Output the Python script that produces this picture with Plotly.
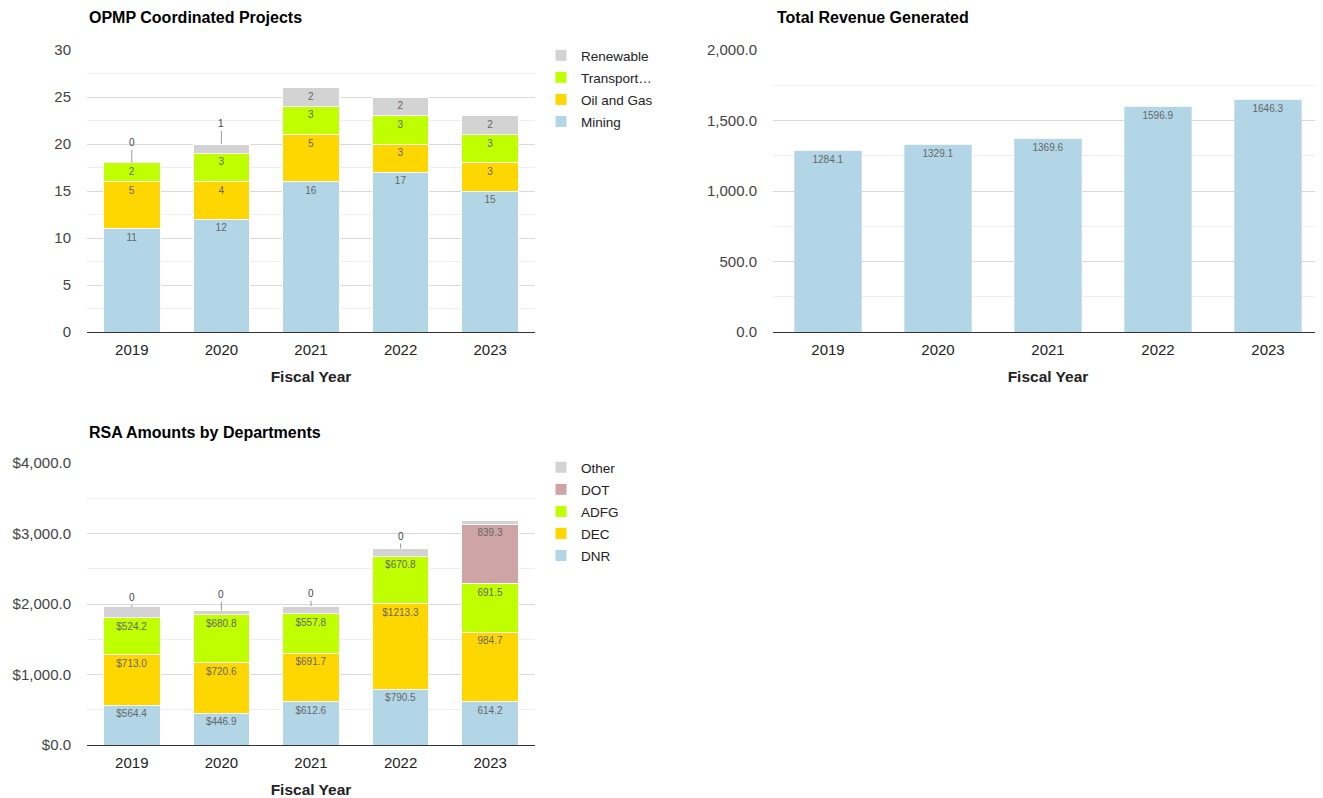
import plotly.graph_objects as go

# ---------------- data ----------------
years = ["2019", "2020", "2021", "2022", "2023"]

# OPMP Coordinated Projects (counts)
mining = [11, 12, 16, 17, 15]
oil_gas = [5, 4, 5, 3, 3]
transport = [2, 3, 3, 3, 3]
renewable = [0, 1, 2, 2, 2]

# Total Revenue Generated
revenue = [1284.1, 1329.1, 1369.6, 1596.9, 1646.3]

# RSA Amounts by Departments
dnr = [564.4, 446.9, 612.6, 790.5, 614.2]
dec = [713.0, 720.6, 691.7, 1213.3, 984.7]
adfg = [524.2, 680.8, 557.8, 670.8, 691.5]
dot = [0, 0, 0, 0, 839.3]
other = [156, 57, 109, 113, 61]
rsa_prefix = ["$", "$", "$", "$", ""]

# ---------------- style ----------------
PAGE_OFF = 8            # default page margin of the html body
W, H = 1323 - PAGE_OFF, 798 - PAGE_OFF
FONT = "Arial, Liberation Sans, sans-serif"
C_BLUE = "#B2D6E6"
C_GOLD = "#FFD700"
C_LIME = "#BFFF00"
C_GRAY = "#D3D3D3"
C_PINK = "#CFA4A4"
LABEL_FONT = dict(family=FONT, size=10, color="#666666")


def fx(px):
    return (px - PAGE_OFF) / W


def fy(py):
    return 1 - (py - PAGE_OFF) / H


fig = go.Figure()
rank = [1000]


def add_stack(series, axes, legend, width, fmt, show_text=True):
    for name, vals, color in series:
        if show_text:
            text = [fmt(i, v) if v * axes[2] >= 12 else "" for i, v in enumerate(vals)]
        else:
            text = None
        rank[0] -= 1
        fig.add_trace(go.Bar(
            x=years, y=vals, name=name, marker=dict(color=color, line=dict(color="white", width=1)),
            text=text, textposition="inside", insidetextanchor="end", textangle=0,
            textfont=LABEL_FONT, xaxis=axes[0], yaxis=axes[1], width=width,
            legend=legend, legendgroup=legend + name, legendrank=rank[0], cliponaxis=False,
        ))


# OPMP chart
opmp_ppu = 282 / 30.0
add_stack([("Mining", mining, C_BLUE), ("Oil and Gas", oil_gas, C_GOLD),
           ("Transport…", transport, C_LIME), ("Renewable", renewable, C_GRAY)],
          ("x", "y", opmp_ppu), "legend", 0.63, lambda i, v: f"{v:g}")

# Revenue chart
fig.add_trace(go.Bar(x=years, y=revenue, name="Revenue", marker=dict(color=C_BLUE),
                     text=[f"{v:.1f}" for v in revenue], textposition="inside",
                     insidetextanchor="end", textangle=0, textfont=LABEL_FONT,
                     xaxis="x2", yaxis="y2", width=0.61, showlegend=False))

# RSA chart
rsa_ppu = 282 / 4000.0
add_stack([("DNR", dnr, C_BLUE), ("DEC", dec, C_GOLD), ("ADFG", adfg, C_LIME),
           ("DOT", dot, C_PINK)], ("x3", "y3", rsa_ppu), "legend2", 0.63,
          lambda i, v: f"{rsa_prefix[i]}{v:.1f}")
add_stack([("Other", other, C_GRAY)], ("x3", "y3", rsa_ppu), "legend2", 0.63,
          None, show_text=False)

annotations = []


# leader labels for tiny segments
def leader(xa, ya, vals, below, totals, ppu, offset_px=20):
    for i, v in enumerate(vals):
        if v * ppu < 12:
            seg_top = below[i] + v
            annotations.append(dict(
                x=i, y=totals[i], xref=xa, yref=ya,
                ax=0, ay=-(offset_px - (totals[i] - seg_top) * ppu),
                text=str(round(v)), showarrow=True, arrowhead=0, arrowwidth=1,
                arrowcolor="#999999", standoff=0, startstandoff=0,
                font=dict(family=FONT, size=10, color="#444444"),
            ))


opmp_below = [a + b + c for a, b, c in zip(mining, oil_gas, transport)]
opmp_tot = [a + b for a, b in zip(opmp_below, renewable)]
leader("x", "y", renewable, opmp_below, opmp_tot, opmp_ppu)

rsa_below = [a + b + c for a, b, c in zip(dnr, dec, adfg)]
rsa_tot = [a + b + c for a, b, c in zip(rsa_below, dot, other)]
leader("x3", "y3", dot, rsa_below, rsa_tot, rsa_ppu)

# titles
for txt, px, py in [("OPMP Coordinated Projects", 87, 18),
                    ("Total Revenue Generated", 775, 18),
                    ("RSA Amounts by Departments", 87, 432)]:
    annotations.append(dict(text=f"<b>{txt}</b>", x=fx(px), y=fy(py), xref="paper", yref="paper",
                            xanchor="left", yanchor="middle", showarrow=False,
                            font=dict(family=FONT, size=16, color="#000000")))


def xax(domain, anchor):
    return dict(domain=domain, anchor=anchor, type="category", range=[-0.5, 4.5],
                showline=True, linecolor="#333333", linewidth=1, ticks="", showgrid=False,
                automargin=False, ticklabelstandoff=4,
                tickfont=dict(family=FONT, size=15, color="#222222"),
                title=dict(text="<b>Fiscal Year</b>", standoff=14,
                           font=dict(family=FONT, size=15.5, color="#222222")))


def yax(domain, anchor, rng, dtick, minor, **kw):
    d = dict(domain=domain, anchor=anchor, range=rng, dtick=dtick, zeroline=False,
             showgrid=True, gridcolor="#DADADA", gridwidth=1, ticks="",
             ticklabelstandoff=15, automargin=False,
             tickfont=dict(family=FONT, size=15, color="#444444"),
             minor=dict(dtick=minor, showgrid=True, gridcolor="#EEEEEE", ticks=""))
    d.update(kw)
    return d


def leg(py):
    return dict(x=fx(541), y=fy(py), xanchor="left", yanchor="top",
                traceorder="grouped", tracegroupgap=1.5,
                font=dict(family=FONT, size=13.5, color="#222222"), bgcolor="rgba(0,0,0,0)")


fig.update_layout(
    width=W, height=H, margin=dict(l=0, r=0, t=0, b=0, autoexpand=False),
    paper_bgcolor="white", plot_bgcolor="white", barmode="stack",
    font=dict(family=FONT, color="#222222"),
    xaxis=xax([fx(87), fx(535)], "y"),
    yaxis=yax([fy(332), fy(50)], "x", [0, 30], 5, 2.5),
    xaxis2=xax([fx(773), 1.0], "y2"),
    yaxis2=yax([fy(332), fy(50)], "x2", [0, 2000], 500, 250, tickformat=",.1f"),
    xaxis3=xax([fx(87), fx(535)], "y3"),
    yaxis3=yax([fy(745), fy(463)], "x3", [0, 4000], 1000, 500, tickformat=",.1f", tickprefix="$"),
    legend=leg(40),
    legend2=leg(452),
    annotations=annotations,
    showlegend=True,
)

fig.write_html("out.html")
